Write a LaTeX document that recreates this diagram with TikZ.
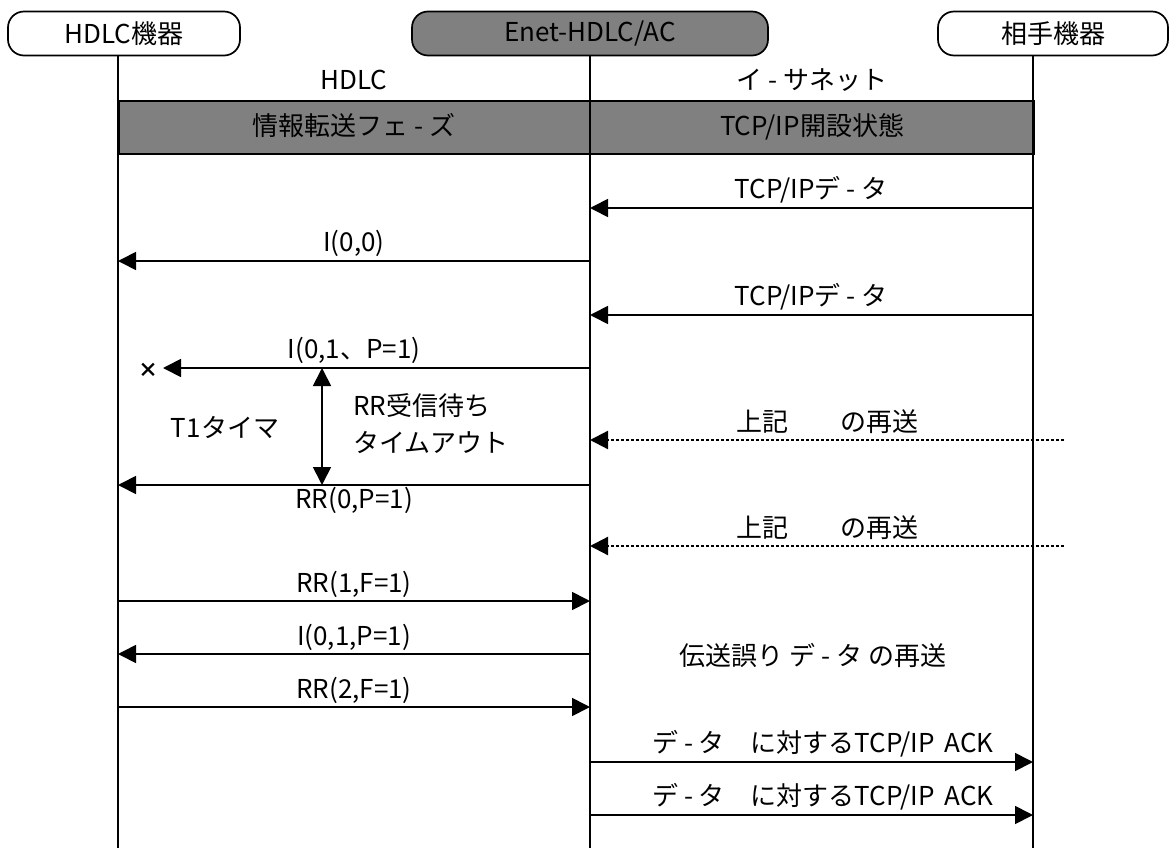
\documentclass[tikz,border=0pt]{standalone}
\usepackage{fontspec}
\setmainfont{Noto Sans CJK JP}
\usetikzlibrary{arrows.meta}
\begin{document}
\begin{tikzpicture}[x=1pt,y=-1pt,
  every node/.style={font=\fontsize{26}{31}\selectfont, inner sep=0pt},
  actor/.style={draw, line width=1.7pt, rounded corners=16pt, minimum height=44pt, inner sep=0pt},
  life/.style={line width=1.7pt},
  msg/.style={line width=1.7pt, -{Triangle[length=18pt,width=18pt]}},
  retry/.style={msg, line width=2.2pt, dash pattern=on 3.5pt off 1.5pt},
  lbl/.style={anchor=base},
]
\useasboundingbox (0,0) rectangle (1170,848);

% band
\node[draw, fill=gray, line width=1.7pt, minimum width=915pt, minimum height=53pt, anchor=north west] (band) at (118,100) {};
\node[lbl] (bandL) at (354,136) {情報転送フェ - ズ};
\node[lbl] (bandR) at (812,136) {TCP/IP開設状態};

% actors
\node[actor, minimum width=232pt] (hdlc) at (124,33.5) {HDLC機器};
\node[actor, minimum width=356pt, fill=gray] (enet) at (590,33.5) {Enet-HDLC/AC};
\node[actor, minimum width=230pt] (peer) at (1053,33.5) {相手機器};

% lifelines
\coordinate (Lt) at (118,55.5); \coordinate (Lb) at (118,848);
\coordinate (Mt) at (590,55.5); \coordinate (Mb) at (590,848);
\coordinate (Rt) at (1033,55.5); \coordinate (Rb) at (1033,848);
\draw[life] (Lt) -- (Lb);
\draw[life] (Mt) -- (Mb);
\draw[life] (Rt) -- (Rb);

\node[lbl] (hdlcLbl) at (354,90) {HDLC};
\node[lbl] (ethLbl) at (812,90) {イ - サネット};

% messages
\coordinate (r1) at (1033,208); \coordinate (m1) at (590,208);
\draw[msg] (r1) -- (m1);
\node[lbl] (t1) at (811,198) {TCP/IPデ - タ};

\coordinate (m2) at (590,261); \coordinate (l2) at (118,261);
\draw[msg] (m2) -- (l2);
\node[lbl] (t2) at (354,251) {I(0,0)};

\coordinate (r3) at (1033,315); \coordinate (m3) at (590,315);
\draw[msg] (r3) -- (m3);
\node[lbl] (t3) at (811,305) {TCP/IPデ - タ};

\coordinate (m4) at (590,368); \coordinate (x4) at (163,368);
\draw[msg] (m4) -- (x4);
\node[lbl] (t4) at (354,358) {I(0,1、P=1)};
\node[font=\fontsize{20}{24}\selectfont\bfseries] (lost) at (148,370) {×};

\coordinate (ta) at (322,368); \coordinate (tb) at (322,485);
\draw[line width=1.7pt, {Triangle[length=18pt,width=18pt]}-{Triangle[length=18pt,width=18pt]}] (ta) -- (tb);
\node (timer) at (225,427) {T1タイマ};
\node[align=left, anchor=west] (timeout) at (353,424) {RR受信待ち\\[6pt]タイムアウト};

\coordinate (m5) at (590,485); \coordinate (l5) at (118,485);
\draw[msg] (m5) -- (l5);
\node[lbl] (t5) at (354,508) {RR(0,P=1)};

\coordinate (e6) at (1064,440); \coordinate (m6) at (590,440);
\draw[retry] (e6) -- (m6);
\node[lbl] (t6) at (827,431) {上記　　の再送};

\coordinate (e7) at (1064,546); \coordinate (m7) at (590,546);
\draw[retry] (e7) -- (m7);
\node[lbl] (t7) at (827,537) {上記　　の再送};

\coordinate (l8) at (118,601); \coordinate (m8) at (590,601);
\draw[msg] (l8) -- (m8);
\node[lbl] (t8) at (354,592) {RR(1,F=1)};

\coordinate (m9) at (590,654); \coordinate (l9) at (118,654);
\draw[msg] (m9) -- (l9);
\node[lbl] (t9) at (354,645) {I(0,1,P=1)};

\coordinate (l10) at (118,707); \coordinate (m10) at (590,707);
\draw[msg] (l10) -- (m10);
\node[lbl] (t10) at (354,698) {RR(2,F=1)};

\node (resend) at (813,655) {伝送誤り デ - タ の再送};

\coordinate (m11) at (590,762); \coordinate (r11) at (1033,762);
\draw[msg] (m11) -- (r11);
\node[lbl] (t11) at (823,752) {デ - タ　に対するTCP/IP\hspace{10pt}ACK};

\coordinate (m12) at (590,815); \coordinate (r12) at (1033,815);
\draw[msg] (m12) -- (r12);
\node[lbl] (t12) at (823,805) {デ - タ　に対するTCP/IP\hspace{10pt}ACK};
\end{tikzpicture}
\end{document}
